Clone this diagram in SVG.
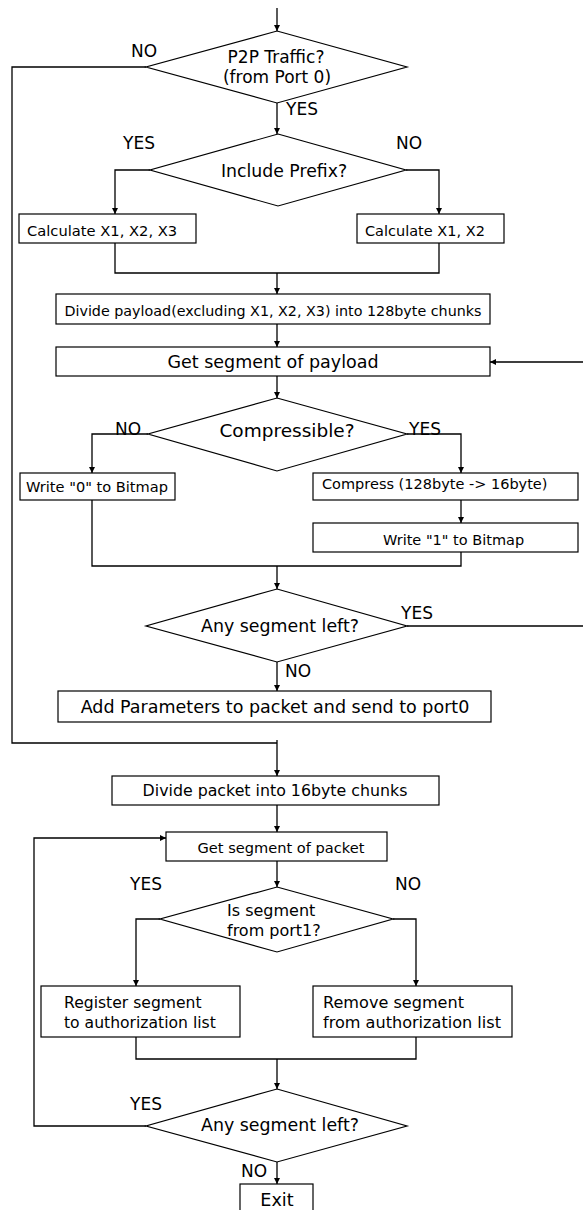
<svg xmlns="http://www.w3.org/2000/svg" width="583" height="1210" viewBox="0 0 583 1210">
<style>
.n{fill:#fff;stroke:#000;stroke-width:1.2}
.c{fill:none;stroke:#000;stroke-width:1.3}
text{font-family:"DejaVu Sans",Verdana,sans-serif;fill:#000}
.m{text-anchor:middle}
</style>
<defs>
<marker id="a" viewBox="0 0 10 10" refX="10" refY="5" markerWidth="6" markerHeight="6" markerUnits="userSpaceOnUse" orient="auto"><path d="M0,0L10,5L0,10z" fill="#000"/></marker>
</defs>
<rect width="583" height="1210" fill="#fff"/>
<g id="connectors">
<path class="c" d="M277,8V31" marker-end="url(#a)"/>
<path class="c" d="M146,67H12V743H277"/>
<path class="c" d="M277,740V776" marker-end="url(#a)"/>
<path class="c" d="M277,103V134" marker-end="url(#a)"/>
<path class="c" d="M150,170H115V214" marker-end="url(#a)"/>
<path class="c" d="M406,170H439V214" marker-end="url(#a)"/>
<path class="c" d="M115,243V273H439V243"/>
<path class="c" d="M277,273V294" marker-end="url(#a)"/>
<path class="c" d="M277,324V347" marker-end="url(#a)"/>
<path class="c" d="M586,626V362H490" marker-end="url(#a)"/>
<path class="c" d="M407,626H586"/>
<path class="c" d="M277,376V398" marker-end="url(#a)"/>
<path class="c" d="M148,434H92V473" marker-end="url(#a)"/>
<path class="c" d="M407,434H461V473" marker-end="url(#a)"/>
<path class="c" d="M461,500V523" marker-end="url(#a)"/>
<path class="c" d="M92,500V566H461V552"/>
<path class="c" d="M277,566V589" marker-end="url(#a)"/>
<path class="c" d="M277,662V691" marker-end="url(#a)"/>
<path class="c" d="M277,805V832" marker-end="url(#a)"/>
<path class="c" d="M277,861V887" marker-end="url(#a)"/>
<path class="c" d="M160,919H136V986" marker-end="url(#a)"/>
<path class="c" d="M393,919H416V986" marker-end="url(#a)"/>
<path class="c" d="M136,1037V1059H416V1037"/>
<path class="c" d="M277,1059V1089" marker-end="url(#a)"/>
<path class="c" d="M146,1126H34V838H166" marker-end="url(#a)"/>
<path class="c" d="M277,1162V1184" marker-end="url(#a)"/>
</g>
<g id="labels" font-size="17">
<text x="131" y="57">NO</text>
<text x="286" y="115">YES</text>
<text x="123" y="149">YES</text>
<text x="396" y="149">NO</text>
<text x="115" y="435">NO</text>
<text x="409" y="435">YES</text>
<text x="401" y="619">YES</text>
<text x="285" y="677">NO</text>
<text x="130" y="890">YES</text>
<text x="395" y="890">NO</text>
<text x="130" y="1110">YES</text>
<text x="241" y="1177">NO</text>
</g>
<g id="n1"><polygon class="n" points="277,31 407,67 277,103 146,67"/><text class="m" x="276" y="63" font-size="17">P2P Traffic?</text><text class="m" x="277" y="83" font-size="17">(from Port 0)</text></g>
<g id="n2"><polygon class="n" points="278,134 406,170 278,206 150,170"/><text class="m" x="284" y="177" font-size="17.3">Include Prefix?</text></g>
<g id="n3"><rect class="n" x="19" y="214" width="177" height="29"/><text x="27" y="236" font-size="14.7">Calculate X1, X2, X3</text></g>
<g id="n4"><rect class="n" x="357" y="214" width="147" height="29"/><text x="365" y="236" font-size="14.5">Calculate X1, X2</text></g>
<g id="n5"><rect class="n" x="56" y="294" width="434" height="30"/><text class="m" x="273" y="316" font-size="14.3">Divide payload(excluding X1, X2, X3) into 128byte chunks</text></g>
<g id="n6"><rect class="n" x="56" y="347" width="434" height="29"/><text class="m" x="273" y="368" font-size="17.5">Get segment of payload</text></g>
<g id="n7"><polygon class="n" points="277,398 407,434 277,471 148,434"/><text class="m" x="287" y="437" font-size="18.5">Compressible?</text></g>
<g id="n8"><rect class="n" x="20" y="473" width="155" height="27"/><text x="26" y="492" font-size="14.6">Write "0" to Bitmap</text></g>
<g id="n9"><rect class="n" x="313" y="473" width="265" height="27"/><text x="322" y="489" font-size="14.5">Compress (128byte -&gt; 16byte)</text></g>
<g id="n10"><rect class="n" x="313" y="523" width="265" height="29"/><text x="383" y="545" font-size="14.5">Write "1" to Bitmap</text></g>
<g id="n11"><polygon class="n" points="277,589 407,626 277,662 146,626"/><text class="m" x="280" y="632" font-size="17.4">Any segment left?</text></g>
<g id="n12"><rect class="n" x="58" y="691" width="433" height="31"/><text class="m" x="275" y="713" font-size="17.5">Add Parameters to packet and send to port0</text></g>
<g id="n13"><rect class="n" x="112" y="776" width="327" height="29"/><text class="m" x="275" y="796" font-size="15.8">Divide packet into 16byte chunks</text></g>
<g id="n14"><rect class="n" x="166" y="832" width="221" height="29"/><text class="m" x="281" y="853" font-size="14.6">Get segment of packet</text></g>
<g id="n15"><polygon class="n" points="277,887 393,919 277,952 160,919"/><text x="227" y="916" font-size="16">Is segment</text><text x="227" y="936" font-size="16">from port1?</text></g>
<g id="n16"><rect class="n" x="41" y="986" width="199" height="51"/><text x="64" y="1008" font-size="15.6">Register segment</text><text x="64" y="1028" font-size="15.6">to authorization list</text></g>
<g id="n17"><rect class="n" x="313" y="986" width="199" height="51"/><text x="323" y="1008" font-size="16.1">Remove segment</text><text x="323" y="1028" font-size="16.1">from authorization list</text></g>
<g id="n18"><polygon class="n" points="277,1089 407,1126 277,1162 146,1126"/><text class="m" x="280" y="1131" font-size="17.4">Any segment left?</text></g>
<g id="n19"><rect class="n" x="240" y="1184" width="73" height="32"/><text class="m" x="277" y="1206" font-size="17.6">Exit</text></g>
</svg>
